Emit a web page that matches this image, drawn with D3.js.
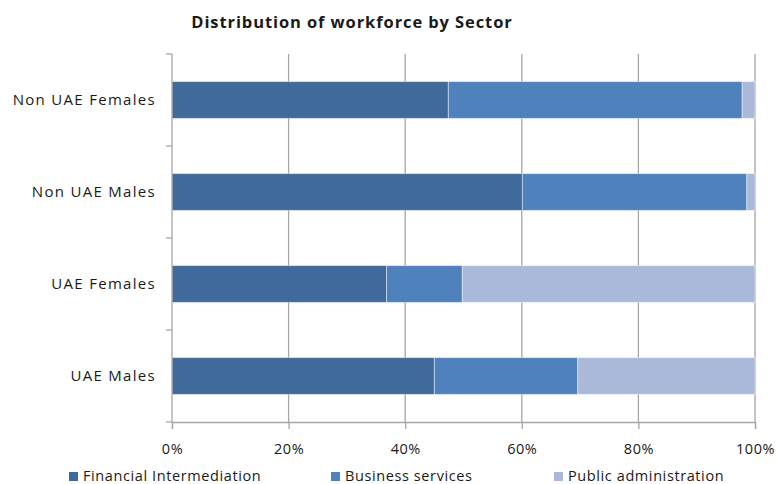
<!DOCTYPE html>
<html>
<head>
<meta charset="utf-8">
<script src="https://cdn.jsdelivr.net/npm/d3@7"></script>
<style>
  html, body { margin: 0; padding: 0; background: #fff; }
  svg text { font-family: "Open Sans", Lato, sans-serif; fill: #1a1a1a; }
</style>
</head>
<body>
<svg id="chart" width="778" height="484"></svg>
<script>
// Shares of each group's workforce by sector (percent)
const categories = ["Non UAE Females", "Non UAE Males", "UAE Females", "UAE Males"];
const seriesNames = ["Financial Intermediation", "Business services", "Public administration"];
const financial = [47.4, 60.1, 36.8, 45.0];
const business  = [50.4, 38.5, 13.0, 24.6];
const publicAdm = [2.2, 1.4, 50.2, 30.4];
const tickValues = [0, 20, 40, 60, 80, 100];
const tickLabels = ["0%", "20%", "40%", "60%", "80%", "100%"];
const colors = ["#3f6a9b", "#4f81bd", "#aab9d9"];

const svg = d3.select("#chart");
const margin = { left: 172, right: 23, top: 54, bottom: 62 };
const W = 778, H = 484;

const x = d3.scaleLinear().domain([0, 100]).range([margin.left, W - margin.right]);
const y = d3.scaleBand().domain(categories).range([margin.top, H - margin.bottom]).paddingInner(0.6).paddingOuter(0.3);

// stacked data
const table = categories.map((c, i) => ({
  cat: c,
  [seriesNames[0]]: financial[i],
  [seriesNames[1]]: business[i],
  [seriesNames[2]]: publicAdm[i]
}));
const stacked = d3.stack().keys(seriesNames)(table);

// Title
svg.append("text")
  .attr("x", 352).attr("y", 28)
  .attr("text-anchor", "middle")
  .attr("font-size", 16.5).attr("font-weight", "bold")
  .style("letter-spacing", "0.9px")
  .text("Distribution of workforce by Sector");

// vertical gridlines
svg.append("g").selectAll("line")
  .data(tickValues.slice(1))
  .join("line")
  .attr("x1", d => x(d)).attr("x2", d => x(d))
  .attr("y1", margin.top).attr("y2", H - margin.bottom)
  .attr("stroke", "#a6a6a6").attr("stroke-width", 1.3);

// bars
svg.append("g").selectAll("g")
  .data(stacked)
  .join("g")
  .attr("fill", (d, i) => colors[i])
  .selectAll("rect")
  .data(d => d)
  .join("rect")
  .attr("x", d => x(d[0]))
  .attr("width", d => x(d[1]) - x(d[0]))
  .attr("y", d => y(d.data.cat))
  .attr("height", y.bandwidth())
  .attr("stroke", "rgba(255,255,255,0.45)")
  .attr("stroke-width", 1);

// x axis
const xAxis = d3.axisBottom(x)
  .tickValues(tickValues)
  .tickFormat((d, i) => tickLabels[i])
  .tickSize(7).tickPadding(15);
const gx = svg.append("g")
  .attr("transform", `translate(0,${H - margin.bottom})`)
  .call(xAxis);
gx.select(".domain").attr("stroke", "#a6a6a6").attr("stroke-width", 1.3);
gx.selectAll(".tick line").attr("stroke", "#a6a6a6").attr("stroke-width", 1.3);
gx.selectAll("text").attr("font-size", 14.5).attr("fill", "#1a1a1a")
  .style("font-family", "'Open Sans', Lato, sans-serif")
  .style("letter-spacing", "0.5px");

// y axis: line with ticks between categories
const bounds = d3.range(categories.length + 1).map(i => margin.top + i * (H - margin.top - margin.bottom) / categories.length);
svg.append("line")
  .attr("x1", x(0)).attr("x2", x(0))
  .attr("y1", margin.top).attr("y2", H - margin.bottom)
  .attr("stroke", "#a6a6a6").attr("stroke-width", 1.3);
svg.append("g").selectAll("line")
  .data(bounds)
  .join("line")
  .attr("x1", x(0) - 6).attr("x2", x(0))
  .attr("y1", d => d).attr("y2", d => d)
  .attr("stroke", "#a6a6a6").attr("stroke-width", 1.3);

svg.append("g").selectAll("text")
  .data(categories)
  .join("text")
  .attr("x", 156)
  .attr("y", d => y(d) + y.bandwidth() / 2)
  .attr("dy", "0.35em")
  .attr("text-anchor", "end")
  .attr("font-size", 15)
  .style("letter-spacing", "1.3px")
  .text(d => d);

// legend
const legendX = [69, 331, 554];
const lg = svg.append("g").selectAll("g")
  .data(seriesNames)
  .join("g")
  .attr("transform", (d, i) => `translate(${legendX[i]},476)`);
lg.append("rect")
  .attr("x", 0).attr("y", -4).attr("width", 9).attr("height", 9)
  .attr("fill", (d, i) => colors[i]);
lg.append("text")
  .attr("x", 14).attr("dy", "0.35em")
  .attr("font-size", 14.5)
  .style("letter-spacing", "0.6px")
  .text(d => d);
</script>
</body>
</html>
